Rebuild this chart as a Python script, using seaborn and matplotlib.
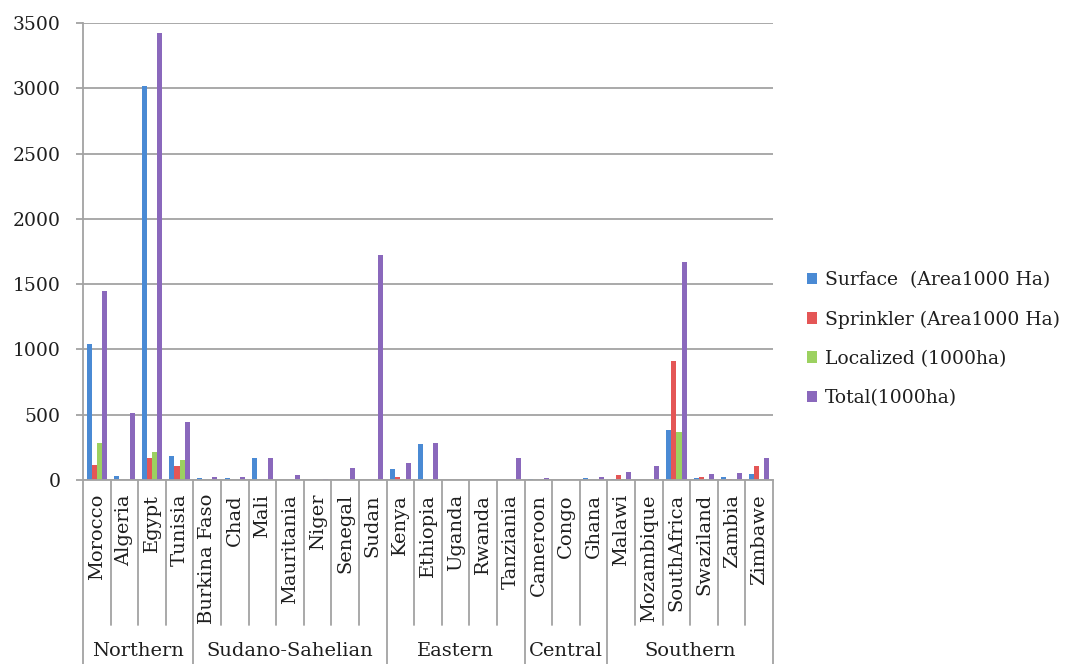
import matplotlib
matplotlib.use("Agg")
import matplotlib.pyplot as plt
import seaborn as sns
import pandas as pd
from matplotlib.patches import Patch

# Irrigated area by technique, per country (1000 ha)
countries = ["Morocco", "Algeria", "Egypt", "Tunisia",
             "Burkina Faso", "Chad", "Mali", "Mauritania", "Niger", "Senegal", "Sudan",
             "Kenya", "Ethiopia", "Uganda", "Rwanda", "Tanziania",
             "Cameroon", "Congo", "Ghana",
             "Malawi", "Mozambique", "SouthAfrica", "Swaziland", "Zambia", "Zimbawe"]
regions = ["Northern", "Sudano-Sahelian", "Eastern", "Central", "Southern"]
region_sizes = [4, 7, 5, 3, 6]

surface = [1040, 30, 3020, 185, 12, 12, 165, 0, 0, 0, 0,
           85, 275, 0, 0, 0, 5, 0, 15, 5, 0, 380, 15, 25, 45]
sprinkler = [115, 0, 170, 110, 0, 0, 0, 0, 0, 0, 0,
             25, 0, 0, 0, 0, 0, 0, 0, 35, 0, 910, 20, 5, 110]
localized = [280, 0, 215, 155, 0, 0, 0, 0, 0, 0, 0,
             5, 0, 0, 0, 0, 0, 0, 0, 10, 0, 370, 0, 0, 0]
total = [1450, 515, 3420, 445, 20, 20, 165, 38, 5, 95, 1720,
         130, 285, 0, 0, 170, 15, 0, 25, 65, 110, 1670, 45, 50, 165]

series_names = ["Surface  (Area1000 Ha)", "Sprinkler (Area1000 Ha)",
                "Localized (1000ha)", "Total(1000ha)"]
colors = ["#4A8AD4", "#E45656", "#9CD160", "#8A68BC"]

rows = []
for name, vals in zip(series_names, [surface, sprinkler, localized, total]):
    for c, v in zip(countries, vals):
        rows.append({"country": c, "series": name, "value": v})
df = pd.DataFrame(rows)

sns.set_style("white")
plt.rcParams["font.family"] = ["DejaVu Serif"]
text_c = "#1E1E1E"

W, H = 1069, 664
fig = plt.figure(figsize=(W / 100, H / 100), dpi=100)
L, R, T, B = 83, 773, 23, 480
ax = fig.add_axes([L / W, 1 - B / H, (R - L) / W, (B - T) / H])

sns.barplot(data=df, x="country", y="value", hue="series", order=countries,
            hue_order=series_names, palette=colors, width=0.74, dodge=True,
            saturation=1, linewidth=0, ax=ax, legend=True)

grid_c = "#A3A3A3"
ax.set_ylim(0, 3500)
ax.set_xlim(-0.5, len(countries) - 0.5)
ax.set_yticks(range(0, 3501, 500))
ax.yaxis.grid(True, color=grid_c, linewidth=1.3)
ax.set_axisbelow(True)
for s in ["top", "right"]:
    ax.spines[s].set_visible(False)
for s in ["left", "bottom"]:
    ax.spines[s].set_color(grid_c)
    ax.spines[s].set_linewidth(1.3)
ax.tick_params(axis="y", length=5, color=grid_c, width=1.3, labelsize=13.5,
               pad=11, left=True, labelcolor=text_c)
ax.tick_params(axis="x", length=0, labelbottom=False)
ax.set_xlabel("")
ax.set_ylabel("")

# Category axis: country names, separators, and region names
tr = ax.get_xaxis_transform()
ph = B - T
y_country_top = -14 / ph
y_sep_short = -145 / ph
y_sep_long = -184 / ph
y_region = -171 / ph

for i, c in enumerate(countries):
    ax.text(i, y_country_top, c, rotation=90, ha="center", va="top",
            fontsize=14, transform=tr, color=text_c)

bounds = [0]
for n in region_sizes:
    bounds.append(bounds[-1] + n)
for k in range(len(countries) + 1):
    x = k - 0.5
    ylow = y_sep_long if k in bounds else y_sep_short
    ax.plot([x, x], [0, ylow], color=grid_c, linewidth=1.3, transform=tr,
            clip_on=False)
for r, a, b in zip(regions, bounds[:-1], bounds[1:]):
    ax.text((a + b - 1) / 2, y_region, r, ha="center", va="center",
            fontsize=14, transform=tr, color=text_c)

handles = [Patch(facecolor=col, edgecolor="none") for col in colors]
leg = ax.legend(handles, series_names, loc="center left",
                bbox_to_anchor=(807 / W, 1 - 339 / H), bbox_transform=fig.transFigure,
                frameon=False, fontsize=13.5, handlelength=0.55, handleheight=0.55,
                handletextpad=0.4, labelspacing=1.13, borderpad=0, borderaxespad=0)
for t in leg.get_texts():
    t.set_color(text_c)

fig.savefig("out.png", dpi=100)
